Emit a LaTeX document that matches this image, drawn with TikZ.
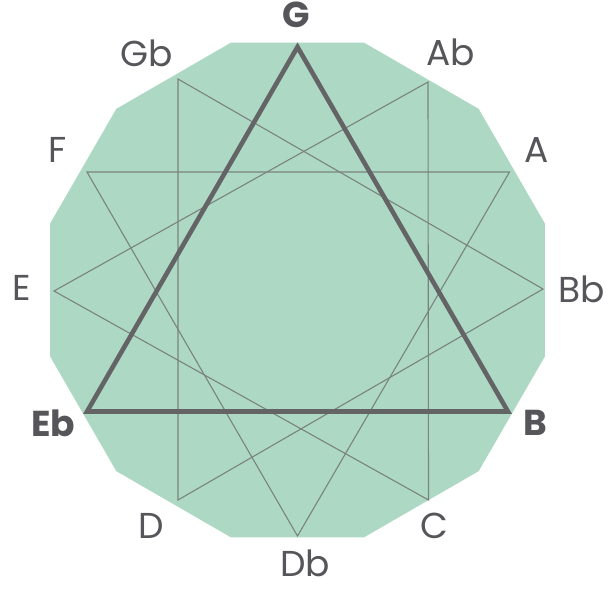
\documentclass[tikz,border=0pt]{standalone}
\usepackage{fontspec}
\setmainfont{Poppins}
\definecolor{fillgreen}{RGB}{173,216,195}
\definecolor{thinline}{RGB}{122,132,126}
\definecolor{thickline}{RGB}{100,100,102}
\definecolor{labelcol}{RGB}{85,85,90}
\begin{document}
\begin{tikzpicture}[x=1pt,y=1pt,
  thinedge/.style={draw=thinline,line width=1.1pt},
  thickedge/.style={draw=thickline,line width=4.6pt,line join=miter},
  notelabel/.style={text=labelcol,font=\fontsize{36}{36}\selectfont,inner sep=0pt},
  boldlabel/.style={notelabel,font=\fontsize{36}{36}\selectfont\bfseries}]
\useasboundingbox (-297.5,-299) rectangle (311.5,290);
% dodecagon
\fill[fillgreen] (15:256.2) \foreach \a in {45,75,...,345} { -- (\a:256.2) } -- cycle;
% points
\coordinate (pG)  at (90:243);
\coordinate (pAb) at (130.5,208);
\coordinate (pA)  at (212,118);
\coordinate (pBb) at (245.5,1);
\coordinate (pB)  at (-30:243);
\coordinate (pC)  at (131,-210);
\coordinate (pDb) at (0,-246);
\coordinate (pD)  at (-119.5,-210);
\coordinate (pEb) at (-150:243);
\coordinate (pE)  at (-243.5,-1);
\coordinate (pF)  at (-210.5,118);
\coordinate (pGb) at (-119.5,211);
% thin triangles
\draw[thinedge] (pAb) -- (pC) -- (pE) -- cycle;
\draw[thinedge] (pA) -- (pDb) -- (pF) -- cycle;
\draw[thinedge] (pBb) -- (pD) -- (pGb) -- cycle;
% thick triangle
\draw[thickedge] (pG) -- (pB) -- (pEb) -- cycle;
% labels (pixel positions relative to centre 297.5,290)
\node[boldlabel] (lG)  at (-1.5,275) {G};
\node[notelabel] (lAb) at (153.5,238) {Ab};
\node[notelabel] (lA)  at (239.5,140) {A};
\node[notelabel] (lBb) at (284,1) {Bb};
\node[boldlabel] (lB)  at (237.5,-133) {B};
\node[notelabel] (lC)  at (137,-236) {C};
\node[notelabel] (lDb) at (7.5,-273) {Db};
\node[notelabel] (lD)  at (-146,-236) {D};
\node[boldlabel] (lEb) at (-244.5,-133) {Eb};
\node[notelabel] (lE)  at (-275.5,2) {E};
\node[notelabel] (lF)  at (-239.5,140) {F};
\node[notelabel] (lGb) at (-150.5,237) {Gb};
\end{tikzpicture}
\end{document}
